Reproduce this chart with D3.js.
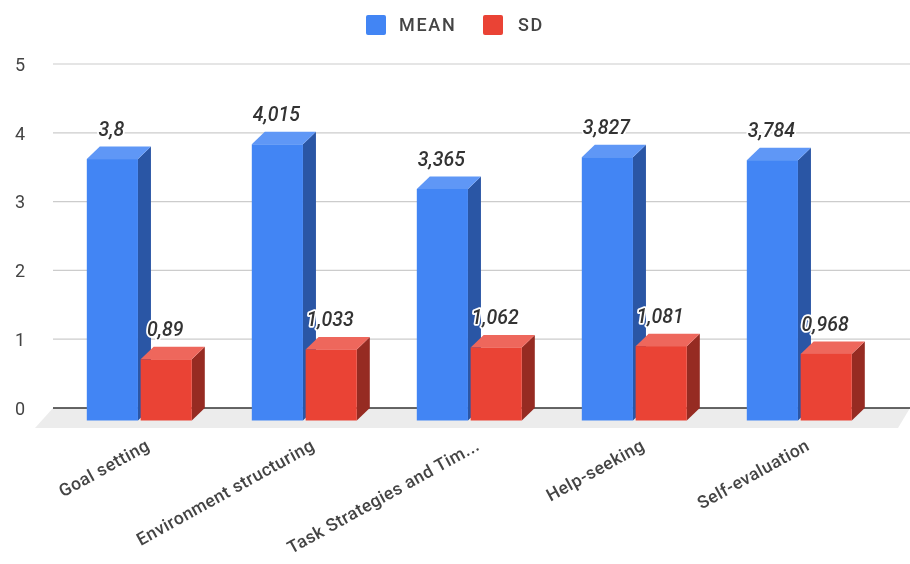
<!DOCTYPE html>
<html>
<head>
<meta charset="utf-8">
<script src="https://cdn.jsdelivr.net/npm/d3@7"></script>
<style>
  html, body { margin: 0; padding: 0; background: #fff; }
  text { font-family: Roboto, sans-serif; }
  svg { display: block; filter: blur(0.4px); }
</style>
</head>
<body>
<svg id="chart" width="910" height="564"></svg>
<script>
// values
var categories = ["Goal setting", "Environment structuring", "Task Strategies and Tim...", "Help-seeking", "Self-evaluation"];
var meanValues = [3.8, 4.015, 3.365, 3.827, 3.784];
var sdValues = [0.89, 1.033, 1.062, 1.081, 0.968];
var yTicks = [0, 1, 2, 3, 4, 5];
var seriesNames = ["MEAN", "SD"];

var width = 910;
var height = 564;
var plotLeft = 53;
var depthX = 13;
var depthY = 12.5;

var svg = d3.select("#chart");

var x = d3.scaleBand()
  .domain(categories)
  .range([3.8, 828.8])
  .paddingInner(0);

var xSeries = d3.scaleBand()
  .domain(seriesNames)
  .range([83, 188])
  .paddingInner(0.05);

var y = d3.scaleLinear()
  .domain([0, 5])
  .range([408, 64]);

var commaFormat = d3.formatLocale({ decimal: ",", thousands: ".", grouping: [3], currency: ["", ""] }).format("~r");

var colors = {
  MEAN: { front: "#4285f4", top: "#5f97f6", side: "#2a56a5" },
  SD: { front: "#ea4335", top: "#ee675c", side: "#962b22" }
};

// floor
svg.append("polygon")
  .attr("points", [[plotLeft, y(0)], [width, y(0)], [width - 12, y(0) + 20], [plotLeft - 18, y(0) + 20]].join(" "))
  .attr("fill", "#ececec");

// grid
svg.append("g").selectAll("line")
  .data(yTicks)
  .enter().append("line")
  .attr("x1", plotLeft)
  .attr("x2", width)
  .attr("y1", d => y(d))
  .attr("y2", d => y(d))
  .attr("stroke", d => d === 0 ? "#333333" : "#cccccc")
  .attr("stroke-width", d => d === 0 ? 1.4 : 1.2);

// y axis labels
var yAxis = svg.append("g")
  .attr("transform", `translate(25, 0)`)
  .call(d3.axisLeft(y).tickValues(yTicks).tickSize(0).tickPadding(0).tickFormat(d3.format("d")));
yAxis.select(".domain").remove();
yAxis.selectAll("text")
  .attr("x", 0)
  .attr("dy", "0.35em")
  .attr("text-anchor", "end")
  .style("font-family", "Roboto, sans-serif")
  .style("font-size", "18px")
  .attr("fill", "#444444");

// bars
var rows = [];
categories.forEach((c, i) => {
  rows.push({ cat: c, series: "MEAN", value: meanValues[i] });
  rows.push({ cat: c, series: "SD", value: sdValues[i] });
});

var bars = svg.append("g").selectAll("g")
  .data(rows)
  .enter().append("g");

bars.each(function(d) {
  var g = d3.select(this);
  var c = colors[d.series];
  var x0 = x(d.cat) + xSeries(d.series);
  var w = xSeries.bandwidth();
  var yTop = y(d.value) + depthY;
  var yBase = y(0) + depthY;

  g.append("polygon")
    .attr("points", [[x0 + w, yTop], [x0 + w + depthX, yTop - depthY], [x0 + w + depthX, yBase - depthY], [x0 + w, yBase]].join(" "))
    .attr("fill", c.side);
  g.append("polygon")
    .attr("points", [[x0, yTop], [x0 + depthX, yTop - depthY], [x0 + w + depthX, yTop - depthY], [x0 + w, yTop]].join(" "))
    .attr("fill", c.top);
  g.append("rect")
    .attr("x", x0)
    .attr("y", yTop)
    .attr("width", w)
    .attr("height", yBase - yTop)
    .attr("fill", c.front);
});

// data labels, halo goes over the bars
svg.append("g").selectAll("text")
  .data(rows)
  .enter().append("text")
  .attr("x", d => x(d.cat) + xSeries(d.series) + xSeries.bandwidth() / 2 - 1)
  .attr("y", d => y(d.value) - 10.5)
  .attr("text-anchor", "middle")
  .attr("font-size", 19.5)
  .attr("font-style", "italic")
  .attr("font-weight", 500)
  .attr("fill", "#333333")
  .attr("stroke", "#ffffff")
  .attr("stroke-width", 3.5)
  .attr("stroke-linejoin", "round")
  .attr("paint-order", "stroke")
  .text(d => commaFormat(d.value));

// category labels
svg.append("g").selectAll("text")
  .data(categories)
  .enter().append("text")
  .attr("transform", d => `translate(${x(d) + 147}, 449) rotate(-29)`)
  .attr("text-anchor", "end")
  .attr("font-size", 17.5)
  .attr("font-weight", 500)
  .attr("letter-spacing", 0.5)
  .attr("fill", "#444444")
  .text(d => d);

// legend
var legendX = d3.scaleOrdinal().domain(seriesNames).range([366, 483]);
var legend = svg.append("g").selectAll("g")
  .data(seriesNames)
  .enter().append("g")
  .attr("transform", d => `translate(${legendX(d)}, 15)`);
legend.append("rect")
  .attr("width", 20)
  .attr("height", 20)
  .attr("rx", 2)
  .attr("fill", d => colors[d].front);
legend.append("text")
  .attr("x", d => d === "MEAN" ? 33 : 35)
  .attr("y", 16)
  .attr("font-size", 18)
  .attr("font-weight", 500)
  .attr("letter-spacing", 1.7)
  .attr("fill", "#444444")
  .text(d => d);
</script>
</body>
</html>
